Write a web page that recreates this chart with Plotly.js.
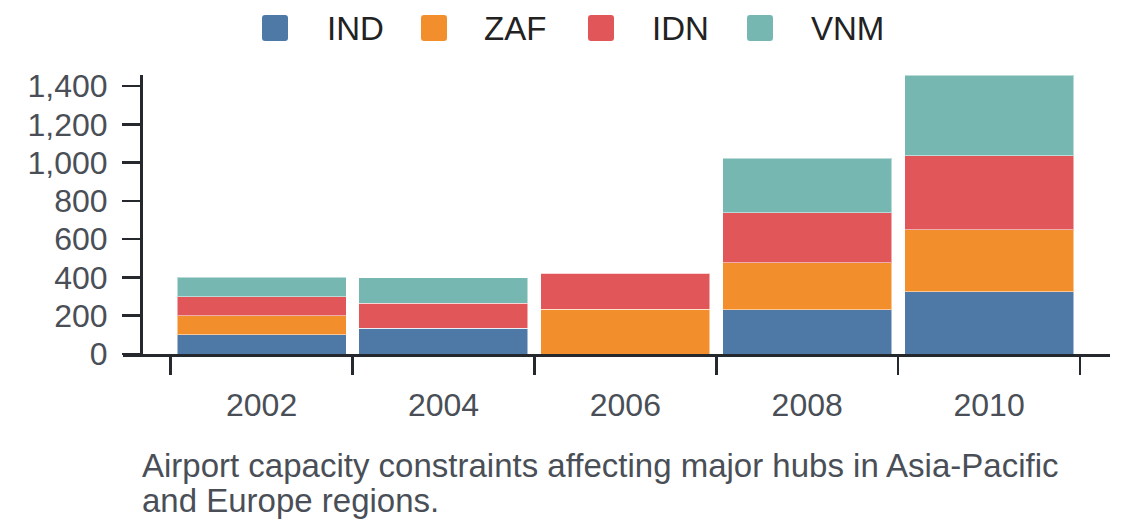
<!DOCTYPE html>
<html>
<head>
<meta charset="utf-8">
<script src="https://cdn.plot.ly/plotly-3.0.1.min.js"></script>
<style>html,body{margin:0;padding:0;background:#fff}</style>
</head>
<body>
<div id="plot" style="width:1140px;height:528px"></div>
<script>
// chart data
var years = ["2002", "2004", "2006", "2008", "2010"];
var seriesNames = ["IND", "ZAF", "IDN", "VNM"];
var seriesColors = ["#4e79a7", "#f28e2b", "#e15759", "#76b7b2"];
var indValues = [100, 135, 0, 230, 325];
var zafValues = [100, 0, 235, 248, 325];
var idnValues = [100, 130, 187, 260, 385];
var vnmValues = [100, 133, 0, 284, 423];
var yTicks = [0, 200, 400, 600, 800, 1000, 1200, 1400];
var captionLines = ["Airport capacity constraints affecting major hubs in Asia-Pacific", "and Europe regions."];

var seriesValues = [indValues, zafValues, idnValues, vnmValues];

// plot box in pixels
var W = 1140, H = 528;
var mL = 123, mR = 30, mT = 75, mB = 174;
var plotW = W - mL - mR, plotH = H - mT - mB;
function px(x) { return (x - mL) / plotW; }
function py(y) { return (H - mB - y) / plotH; }

var totals = years.map(function (_, i) {
  return seriesValues.reduce(function (s, v) { return s + v[i]; }, 0);
});
var yMax = Math.max.apply(null, totals);

var font = "Liberation Sans, Arial, sans-serif";
var labelGrey = "#4a4f57";

var data = seriesNames.map(function (name, k) {
  return {
    type: "bar",
    name: name,
    x: years,
    y: seriesValues[k],
    marker: { color: seriesColors[k], line: { color: "rgba(255,255,255,0.5)", width: 1 } },
    showlegend: false,
    hoverinfo: "x+y+name"
  };
});

// legend drawn as rounded squares + labels
var legSquareLeft = [262, 421, 588, 747];
var legLabelLeft = [327, 484, 652, 811];
var sq = 26, sqTop = 15, rad = 3;

function roundRect(x0, y0, x1, y1, r) {
  var X = function (v) { return px(v).toFixed(5); };
  var Y = function (v) { return py(v).toFixed(5); };
  return "M" + X(x0 + r) + "," + Y(y0) +
    " L" + X(x1 - r) + "," + Y(y0) + " Q" + X(x1) + "," + Y(y0) + " " + X(x1) + "," + Y(y0 + r) +
    " L" + X(x1) + "," + Y(y1 - r) + " Q" + X(x1) + "," + Y(y1) + " " + X(x1 - r) + "," + Y(y1) +
    " L" + X(x0 + r) + "," + Y(y1) + " Q" + X(x0) + "," + Y(y1) + " " + X(x0) + "," + Y(y1 - r) +
    " L" + X(x0) + "," + Y(y0 + r) + " Q" + X(x0) + "," + Y(y0) + " " + X(x0 + r) + "," + Y(y0) + " Z";
}

var shapes = seriesNames.map(function (name, k) {
  return {
    type: "path", xref: "paper", yref: "paper",
    path: roundRect(legSquareLeft[k], sqTop, legSquareLeft[k] + sq, sqTop + sq, rad),
    fillcolor: seriesColors[k], line: { width: 0 }
  };
});

var annotations = seriesNames.map(function (name, k) {
  return {
    xref: "paper", yref: "paper",
    x: px(legLabelLeft[k] - 2), y: py(sqTop + sq / 2),
    xanchor: "left", yanchor: "middle",
    text: name, showarrow: false,
    font: { family: font, size: 33, color: "#222222" }
  };
});

// caption, one annotation per line to keep the tight line spacing
var captionCentres = [465, 500];
captionLines.forEach(function (line, i) {
  annotations.push({
    xref: "paper", yref: "paper",
    x: px(140), y: py(captionCentres[i]),
    xanchor: "left", yanchor: "middle", align: "left",
    text: line, showarrow: false,
    font: { family: font, size: 33, color: labelGrey }
  });
});

var layout = {
  width: W, height: H,
  margin: { l: mL, r: mR, t: mT, b: mB, pad: 0 },
  paper_bgcolor: "#ffffff", plot_bgcolor: "#ffffff",
  barmode: "stack",
  bargap: 0.071,
  showlegend: false,
  font: { family: font },
  xaxis: {
    type: "category",
    range: [-0.5 - 47.7 / 182, 4.5 + 30 / 182],
    showgrid: false, zeroline: false,
    showline: true, linecolor: "#25282c", linewidth: 2.5,
    ticks: "outside", tickson: "boundaries", ticklen: 18, tickwidth: 2.5, tickcolor: "#25282c",
    ticklabelstandoff: 21,
    tickfont: { family: font, size: 32, color: labelGrey }
  },
  yaxis: {
    anchor: "free", position: px(141),
    range: [0, yMax],
    showgrid: false, zeroline: false,
    showline: true, linecolor: "#25282c", linewidth: 2.5,
    ticks: "outside", ticklen: 18, tickwidth: 2.5, tickcolor: "#25282c",
    tickvals: yTicks, tickformat: ",d",
    ticklabelstandoff: 8,
    tickfont: { family: font, size: 32, color: labelGrey }
  },
  shapes: shapes,
  annotations: annotations
};

Plotly.newPlot("plot", data, layout, { displayModeBar: false, staticPlot: true });
</script>
</body>
</html>
